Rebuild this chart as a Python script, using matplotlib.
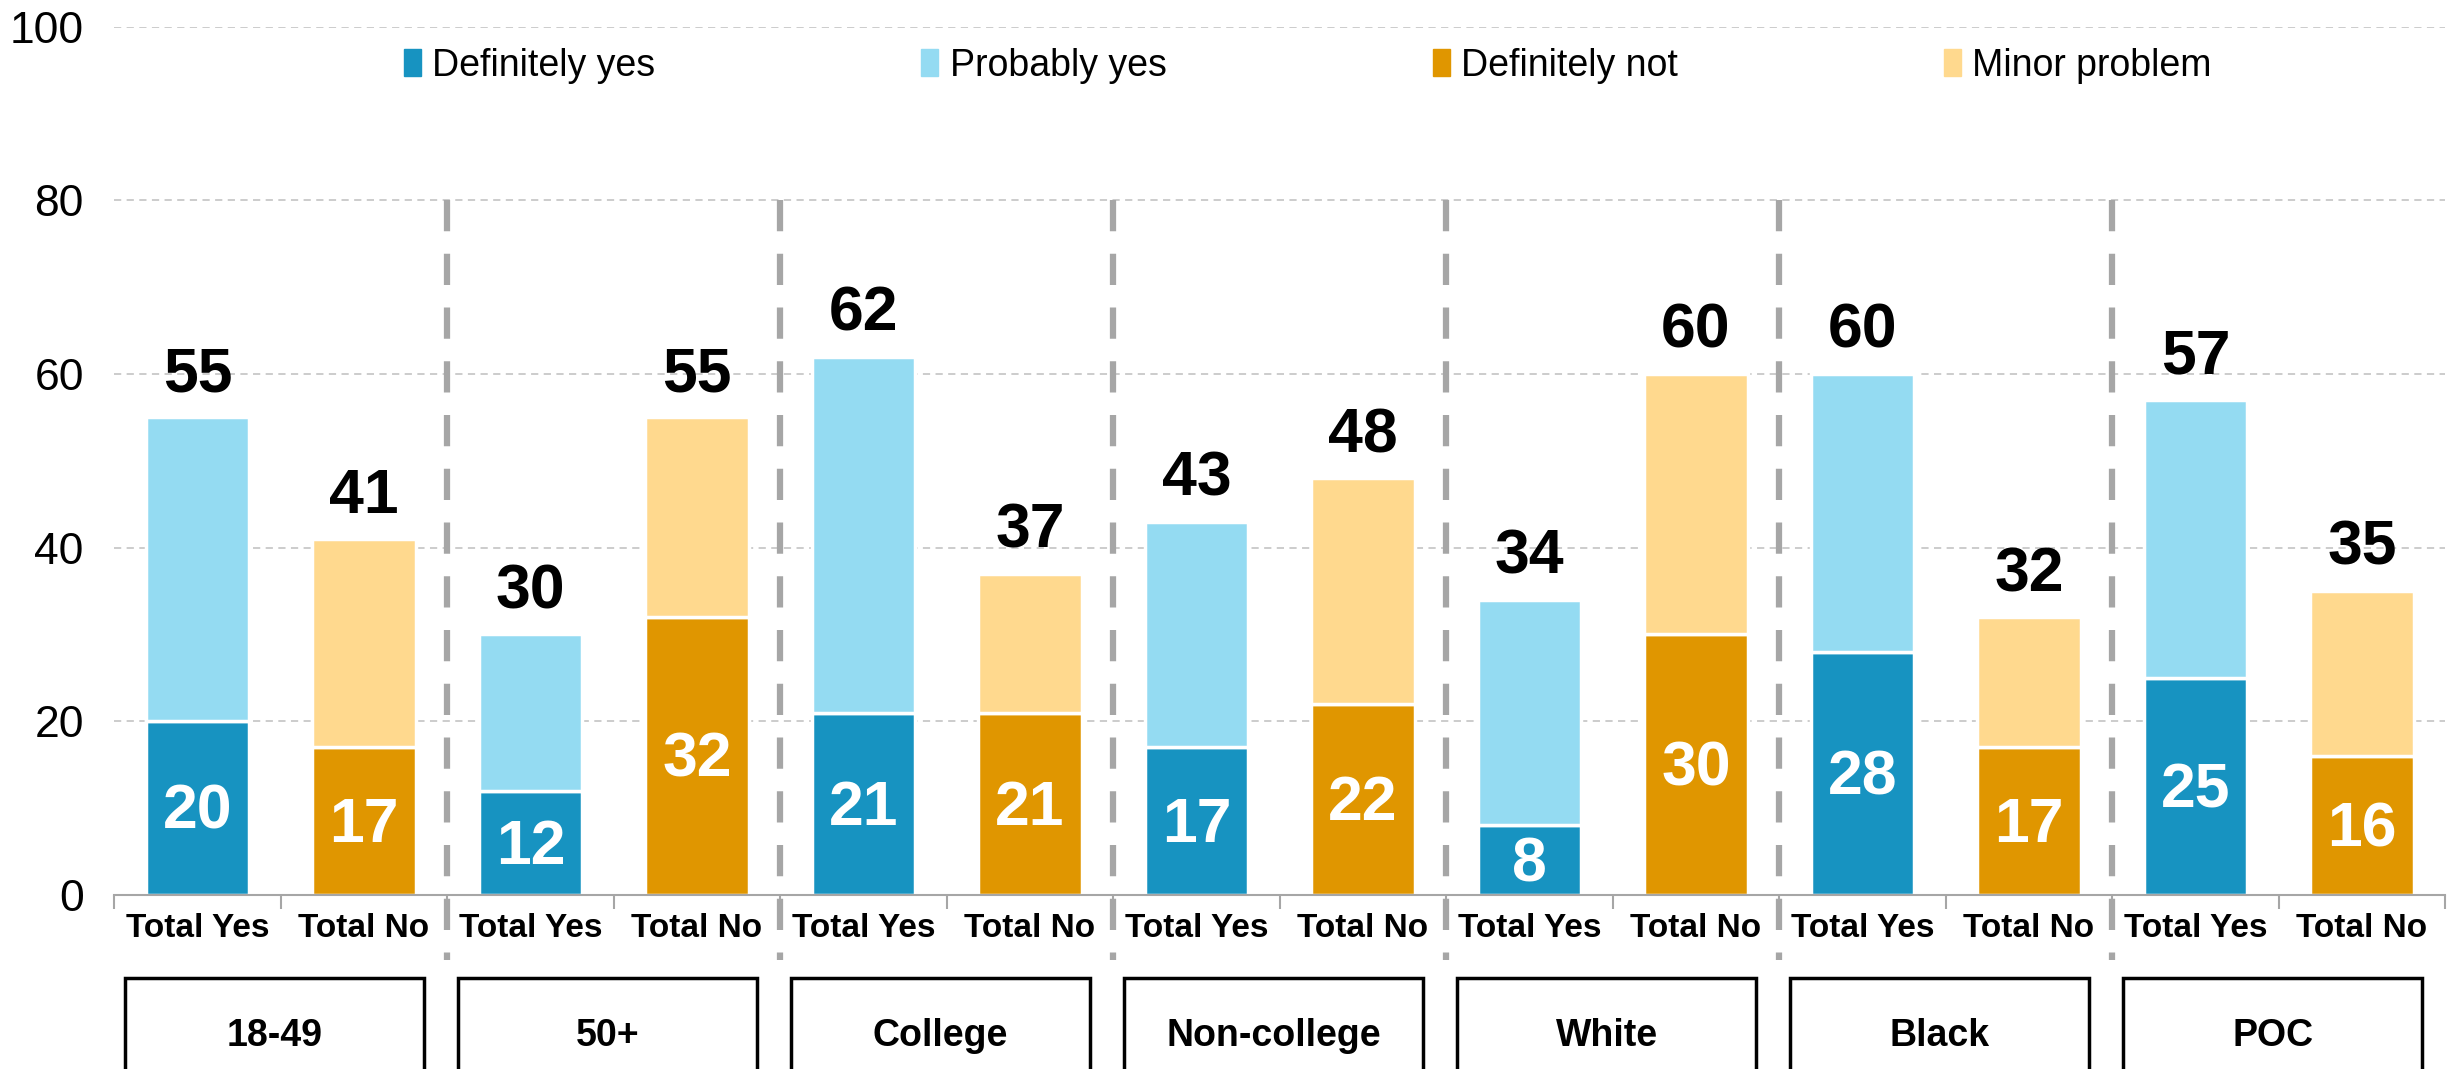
import matplotlib.pyplot as plt
from matplotlib.patches import Rectangle, Patch
import numpy as np

groups = ['18-49', '50+', 'College', 'Non-college', 'White', 'Black', 'POC']
bar_names = ['Total Yes', 'Total No']
def_yes = [20, 12, 21, 17, 8, 28, 25]
total_yes = [55, 30, 62, 43, 34, 60, 57]
def_not = [17, 32, 21, 22, 30, 17, 16]
total_no = [41, 55, 37, 48, 60, 32, 35]
legend_names = ['Definitely yes', 'Probably yes', 'Definitely not', 'Minor problem']

c_def_yes = '#1793C1'
c_prob_yes = '#94DBF2'
c_def_not = '#E09600'
c_minor = '#FFD98E'
sep_gray = '#A6A6A6'

plt.rcParams['font.family'] = ['Liberation Sans', 'DejaVu Sans']

fig = plt.figure(figsize=(24.53, 10.69), dpi=100)
ax = fig.add_axes([0.0466, 0.1628, 0.9502, 0.8123])

n = len(groups)
x_yes = np.arange(n) * 2
x_no = x_yes + 1
w = 0.62
prob_yes = np.array(total_yes) - np.array(def_yes)
minor = np.array(total_no) - np.array(def_not)

kw = dict(edgecolor='white', linewidth=2.5, zorder=2)
ax.bar(x_yes, def_yes, w, color=c_def_yes, **kw)
ax.bar(x_yes, prob_yes, w, bottom=def_yes, color=c_prob_yes, **kw)
ax.bar(x_no, def_not, w, color=c_def_not, **kw)
ax.bar(x_no, minor, w, bottom=def_not, color=c_minor, **kw)

# totals on top, definite share inside
for xs, tots, defs in [(x_yes, total_yes, def_yes), (x_no, total_no, def_not)]:
    for xi, t, d in zip(xs, tots, defs):
        ax.text(xi, t + 3.0, str(t), ha='center', va='baseline',
                fontsize=45, fontweight='bold', color='black')
        ax.text(xi, d / 2 - 2.4, str(d), ha='center', va='baseline',
                fontsize=45, fontweight='bold', color='white', zorder=5)

ax.set_xlim(-0.5, 2 * n - 0.5)
ax.set_ylim(0, 100)

ax.set_xticks(np.arange(2 * n))
ax.set_xticklabels(bar_names * n, fontsize=24, fontweight='bold')
ax.set_xticks(np.arange(-0.5, 2 * n, 1), minor=True)
ax.tick_params(axis='x', which='major', length=0, pad=13)
ax.tick_params(axis='x', which='minor', length=10, width=1.5, color=sep_gray)

ax.set_yticks(np.arange(0, 101, 20))
ax.set_yticklabels([str(v) for v in range(0, 101, 20)], fontsize=32)
ax.tick_params(axis='y', length=0, pad=22)

for s in ['left', 'right', 'top']:
    ax.spines[s].set_visible(False)
ax.spines['bottom'].set_color(sep_gray)
ax.spines['bottom'].set_linewidth(1.5)

ax.set_axisbelow(True)
ax.yaxis.grid(True, linestyle=(0, (4, 3)), color='#C8C8C8', linewidth=1.3)

# dashed separators between groups
for b in np.arange(1.5, 2 * n - 1, 2):
    ax.plot([b, b], [80, -7.5], color=sep_gray, lw=4.5, ls=(0, (5, 3.6)),
            clip_on=False, zorder=4)

# group boxes below the axis
for g, name in enumerate(groups):
    left = 2 * g - 0.5 + 0.066
    ax.add_patch(Rectangle((left, -30), 1.795, 20.45, fill=False, ec='black',
                           lw=2.5, clip_on=False))
    ax.text(left + 0.8975, -16.2, name, ha='center', va='center', fontsize=27,
            fontweight='bold')

handles = [Patch(color=c) for c in [c_def_yes, c_prob_yes, c_def_not, c_minor]]
ax.legend(handles, legend_names, loc='center', bbox_to_anchor=(0.512, 0.955),
          ncol=4, frameon=False, prop={'size': 27},
          handlelength=0.45, handleheight=0.7, handletextpad=0.3,
          columnspacing=7.1)

plt.savefig('out.png', dpi=100)
